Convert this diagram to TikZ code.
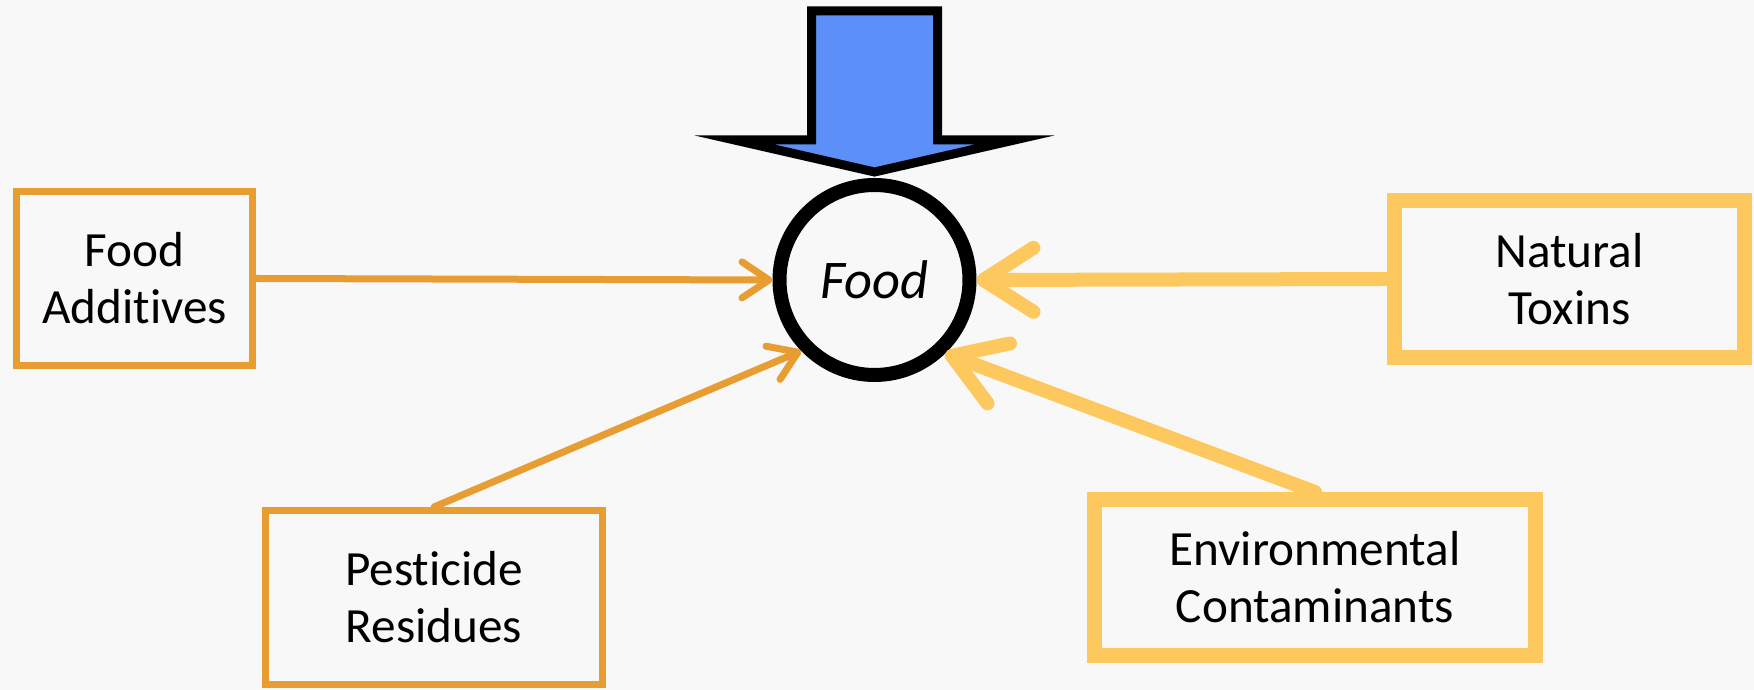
\documentclass[tikz,border=0pt]{standalone}
\usepackage{fontspec}
\setmainfont[Ligatures=NoCommon]{Carlito}
\usetikzlibrary{arrows.meta}
\definecolor{darkamber}{HTML}{E89D33}
\definecolor{lightamber}{HTML}{FDC95E}
\definecolor{skyblue}{HTML}{5C90F8}
\definecolor{paper}{HTML}{F8F8F8}
\begin{document}
\begin{tikzpicture}[
    srcbox/.style={rectangle, align=center, fill=paper, text=black,
        font=\fontsize{14}{16.2}\selectfont},
    thinsrc/.style={srcbox, draw=darkamber, line width=0.07cm},
    thicksrc/.style={srcbox, draw=lightamber, line width=0.15cm},
    thinarrow/.style={draw=darkamber, line width=0.07cm, line cap=round,
        -{Straight Barb[length=0.27cm,width=0.36cm,round]}},
    thickarrow/.style={draw=lightamber, line width=0.14cm, line cap=round,
        -{Straight Barb[length=0.50cm,width=0.64cm,round]}}
  ]
        \fill[paper] (0,0) rectangle (17.54,6.90);
        \useasboundingbox (0,0) rectangle (17.54,6.90);
        \node[draw, circle, line width=0.14cm, minimum size=1.90cm, fill=paper,
            font=\fontsize{15.5}{18}\selectfont\itshape] (F) at (8.745,4.10) {Food};
        \node[thinsrc, minimum width=2.36cm, minimum height=1.74cm] (A) at (1.345,4.115) {Food\\Additives};
        \node[thinsrc, minimum width=3.37cm, minimum height=1.74cm] (P) at (4.34,0.925) {Pesticide\\Residues};
        \node[thicksrc, minimum width=3.50cm, minimum height=1.57cm] (N) at (15.695,4.11) {Natural\\Toxins};
        \node[thicksrc, minimum width=4.41cm, minimum height=1.56cm] (E) at (13.15,1.125) {Environmental\\Contaminants};
        % big input arrow on top
        \draw[fill=skyblue, line width=0.09cm] ([yshift=0.06cm]F.north)
            -- ++(-1.40,0.32) -- ++(0.77,0) -- ++(0,1.29) -- ++(1.26,0)
            -- ++(0,-1.29) -- ++(0.77,0) -- cycle;
        \draw[thinarrow] (A.east) -- (F.west);
        \draw[thinarrow] (P.north) -- (F.224);
        \draw[thickarrow] (N.west) -- (F.east);
        \draw[thickarrow] (E.north) -- (F.314);
    \end{tikzpicture}
\end{document}
